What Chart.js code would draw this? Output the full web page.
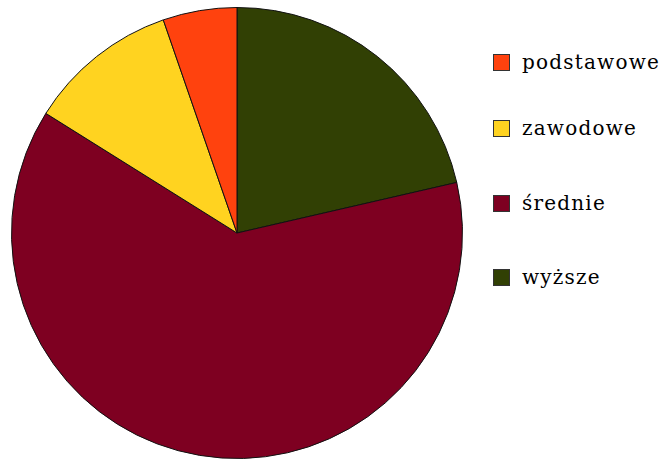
<!DOCTYPE html>
<html>
<head>
<meta charset="utf-8">
<script src="https://cdn.jsdelivr.net/npm/chart.js@4"></script>
<style>
  html, body { margin: 0; padding: 0; background: #fff; }
  #wrap { position: relative; width: 669px; height: 459px; overflow: hidden; }
  #pie-box { position: absolute; left: 0; top: 0; width: 474px; height: 459px; }
  #legend { position: absolute; left: 493px; top: 47px; margin: 0; padding: 0; list-style: none; color: #000; }
  #legend li { display: flex; align-items: center; height: 30px; white-space: nowrap;
    font-family: 'DejaVu Serif', 'Liberation Serif', serif; font-size: 20px; letter-spacing: 1.2px; }
  #legend li:nth-child(1) { margin-bottom: 36px; }
  #legend li:nth-child(2) { margin-bottom: 45px; }
  #legend li:nth-child(3) { margin-bottom: 44px; }
  #legend .sw { width: 17px; height: 17px; border: 1px solid #333; margin-right: 12px; box-sizing: border-box; flex: none; }
</style>
</head>
<body>
<div id="wrap">
  <div id="pie-box"><canvas id="pie"></canvas></div>
  <ul id="legend"></ul>
</div>
<script>
// ========== DATA ==========
const categories = ['podstawowe', 'zawodowe', 'średnie', 'wyższe'];
const shares = [5.3, 10.8, 62.5, 21.4];
const colors = ['#ff420e', '#ffd320', '#7e0021', '#314004'];

// slices run counter-clockwise from the top in the original, so feed them reversed
const order = categories.map((_, i) => i).reverse();

// legend (kept in original order)
const legend = document.getElementById('legend');
categories.forEach((name, i) => {
  const li = document.createElement('li');
  li.innerHTML = `<span class="sw" style="background:${colors[i]}"></span><span>${name}</span>`;
  legend.appendChild(li);
});

new Chart(document.getElementById('pie'), {
  type: 'pie',
  data: {
    labels: order.map(i => categories[i]),
    datasets: [{
      data: order.map(i => shares[i]),
      backgroundColor: order.map(i => colors[i]),
      borderColor: '#111',
      borderWidth: 1
    }]
  },
  options: {
    responsive: true,
    maintainAspectRatio: false,
    animation: false,
    layout: { padding: { top: 7, bottom: 0, left: 8, right: 8 } },
    plugins: {
      legend: { display: false },
      tooltip: { enabled: false }
    }
  }
});
</script>
</body>
</html>
